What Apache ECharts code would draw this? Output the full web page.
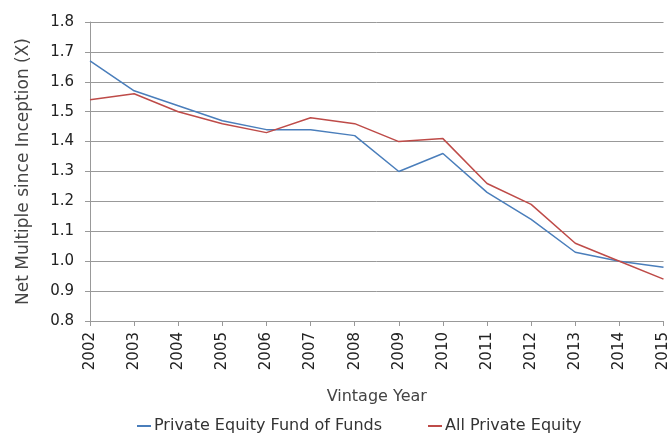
<!DOCTYPE html>
<html>
<head>
<meta charset="utf-8">
<script src="https://cdn.jsdelivr.net/npm/echarts@6/dist/echarts.min.js"></script>
<style>
  body { margin: 0; background: #fff; }
  #main { width: 671px; height: 435px; }
</style>
</head>
<body>
<div id="main"></div>
<script>
var years = ['2002', '2003', '2004', '2005', '2006', '2007', '2008', '2009', '2010', '2011', '2012', '2013', '2014', '2015'];
var fundOfFunds = [1.67, 1.57, 1.52, 1.47, 1.44, 1.44, 1.42, 1.30, 1.36, 1.23, 1.14, 1.03, 1.00, 0.98];
var allPE = [1.54, 1.56, 1.50, 1.46, 1.43, 1.48, 1.46, 1.40, 1.41, 1.26, 1.19, 1.06, 1.00, 0.94];

var font = 'DejaVu Sans';
var chart = echarts.init(document.getElementById('main'));
chart.setOption({
    animation: false,
    textStyle: { fontFamily: font },
    grid: { left: 90, right: 5, top: 22, bottom: 114 },
    legend: {
        bottom: 1,
        left: 137,
        padding: 0,
        itemGap: 46,
        itemWidth: 14,
        itemHeight: 2,
        icon: 'rect',
        textStyle: { fontSize: 16, color: '#333', fontFamily: font, padding: [0, 0, 0, -2] },
        data: ['Private Equity Fund of Funds', 'All Private Equity']
    },
    xAxis: {
        type: 'category',
        data: years,
        boundaryGap: false,
        name: 'Vintage Year',
        nameLocation: 'middle',
        nameGap: 68,
        nameTextStyle: { fontSize: 16, color: '#444' },
        axisLine: { lineStyle: { color: '#999' } },
        axisTick: { show: true, length: 5, lineStyle: { color: '#999' } },
        axisLabel: { rotate: 90, fontSize: 15, color: '#222', margin: 11 },
        splitLine: { show: false }
    },
    yAxis: {
        type: 'value',
        min: 0.8,
        max: 1.8,
        interval: 0.1,
        name: 'Net Multiple since Inception (X)',
        nameLocation: 'middle',
        nameGap: 58,
        nameTextStyle: { fontSize: 17, color: '#444' },
        axisLine: { show: true, lineStyle: { color: '#999' } },
        axisTick: { show: true, length: 5, lineStyle: { color: '#999' } },
        axisLabel: { fontSize: 15, color: '#222', margin: 16, formatter: function (v) { return v.toFixed(1); } },
        splitLine: { lineStyle: { color: '#999', width: 1 } }
    },
    series: [
        {
            name: 'Private Equity Fund of Funds',
            type: 'line',
            data: fundOfFunds,
            symbol: 'none',
            itemStyle: { color: '#4A7EBB' },
            lineStyle: { color: '#4A7EBB', width: 1.5 }
        },
        {
            name: 'All Private Equity',
            type: 'line',
            data: allPE,
            symbol: 'none',
            itemStyle: { color: '#BE4B48' },
            lineStyle: { color: '#BE4B48', width: 1.5 }
        }
    ]
});
</script>
</body>
</html>
